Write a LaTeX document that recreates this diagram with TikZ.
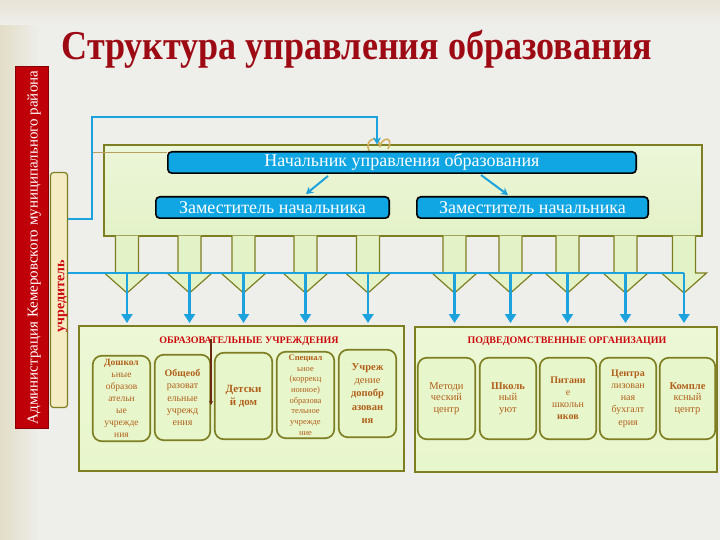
\documentclass[tikz,border=0pt]{standalone}
\usepackage{fontspec}
\setmainfont{Liberation Serif}
\usetikzlibrary{arrows.meta}
\definecolor{bluebox}{HTML}{10A6E4}
\definecolor{lblue}{HTML}{1CA3DD}
\definecolor{olivec}{HTML}{7E7E22}
\definecolor{lgreen}{HTML}{E4F2C8}
\definecolor{boxgreen}{HTML}{E8F6CC}
\definecolor{txtbrown}{HTML}{B0601A}
\definecolor{titlered}{HTML}{9E0A14}
\definecolor{labred}{HTML}{CC0A10}
\definecolor{barred}{HTML}{C00008}
\definecolor{cream}{HTML}{F6ECC4}
\definecolor{bgc}{HTML}{EEEEEB}
\definecolor{beige}{HTML}{E2DDC6}
\definecolor{goldc}{HTML}{D2B060}
\definecolor{tanc}{HTML}{B8A060}
\definecolor{brownarr}{HTML}{6B2A10}
\tikzset{
  bline/.style={draw=lblue, line width=2.2pt},
  oliveline/.style={draw=olivec, line width=1.2pt},
  bluenode/.style={draw=black, line width=1.6pt, fill=bluebox, rounded corners=4pt,
    text=white, inner sep=0pt},
  ibox/.style={draw=olivec, line width=1.7pt, fill=boxgreen, rounded corners=9pt,
    text=txtbrown, align=center, inner sep=0pt, font=\fontsize{9.5}{12}\selectfont},
  outerbox/.style={draw=olivec, line width=1.2pt, inner sep=0pt},
  redlab/.style={text=labred, font=\fontsize{10}{12}\selectfont\bfseries, inner sep=0pt},
}
\begin{document}
\begin{tikzpicture}[x=1pt,y=-1pt]
\useasboundingbox (0,0) rectangle (720,540);
% background
\fill[bgc] (0,0) rectangle (720,540);
\shade[left color=beige, right color=bgc] (0,0) rectangle (40,540);
\shade[top color=beige!60!bgc, bottom color=bgc] (0,0) rectangle (720,25);
% title
\node[anchor=base, text=titlered, font=\fontsize{41}{46}\selectfont\bfseries] (title) at (357,60)
  {\scalebox{0.88}[1]{Структура управления образования}};
% red bar
\node[fill=barred, draw=barred!70!black, line width=0.6pt, minimum width=33pt, minimum height=362pt, inner sep=0pt] (admin) at (31.5,247) {};
\node[rotate=90, text=white, font=\fontsize{15}{17}\selectfont, inner sep=0pt] (admintext) at (34,247.5)
  {Администрация Кемеровского муниципального района};
% cream bar
\node[fill=cream, draw=olivec, line width=1.2pt, rounded corners=3pt, minimum width=17pt, minimum height=235pt, inner sep=0pt] (ucr) at (59,290) {};
\node[rotate=90, text=labred, font=\fontsize{14}{16}\selectfont\bfseries, inner sep=0pt] (ucrtext) at (62.5,296) {учредитель};
% big green box
\node[outerbox, top color=lgreen!70!white, bottom color=lgreen, minimum width=598pt, minimum height=91pt] (bigbox) at (403,190.5) {};
% faint line and ornament
\coordinate (fl1) at (92,152);
\coordinate (fl2) at (167,152);
\draw[tanc, line width=0.6pt] (fl1) -- (fl2);
\draw[goldc, line width=1.6pt] (369,151) .. controls (364,139) and (378,134) .. (380,146)
  .. controls (383,136) and (394,137) .. (388,149);
% blue nodes
\node[bluenode, minimum width=468.4pt, minimum height=21.4pt, font=\fontsize{18}{20}\selectfont] (head) at (402,162.5) {Начальник управления образования};
\node[bluenode, minimum width=233.4pt, minimum height=21.4pt, font=\fontsize{18}{20}\selectfont] (dep1) at (272.5,207.5) {Заместитель начальника};
\node[bluenode, minimum width=231.4pt, minimum height=21.4pt, font=\fontsize{18}{20}\selectfont] (dep2) at (532.5,207.5) {Заместитель начальника};
\draw[bline, line width=2pt, -{Stealth[length=7pt,width=8pt]}] ([xshift=-74pt,yshift=-2pt]head.south) -- ([xshift=33.5pt,yshift=2pt]dep1.north);
\draw[bline, line width=2pt, -{Stealth[length=7pt,width=8pt]}] ([xshift=79pt,yshift=-1pt]head.south) -- ([xshift=-24.5pt,yshift=1pt]dep2.north);
% connector from founder to head box
\coordinate (c1) at (92,219);
\coordinate (c2) at (92,117);
\coordinate (c3) at (377,117);
\coordinate (c4) at (377,0);
\draw[bline, -{Stealth[length=7pt,width=8pt]}] ([yshift=71pt]ucr.east) -- (c1) -- (c2) -- (c3) -- (bigbox.north -| c4);
% funnels
\foreach \i/\c in {1/127,2/189.5,3/243.5,4/305.5,5/368,6/454.5,7/510.5,8/567.5,9/625.5,10/684}{
  \fill[lgreen] (\c-11.5,235.5) -- (\c-11.5,273) -- (\c-22.5,273) -- (\c,293) -- (\c+22.5,273) -- (\c+11.5,273) -- (\c+11.5,235.5) -- cycle;
  \draw[oliveline] (\c-11.5,236) -- (\c-11.5,273) -- (\c-22.5,273) -- (\c,293) -- (\c+22.5,273) -- (\c+11.5,273) -- (\c+11.5,236);
  \coordinate (top\i) at (\c,273);
  \coordinate (tip\i) at (\c,323);
}
\draw[bline] ([yshift=17pt]ucr.east) -- (top10);
\foreach \i in {1,...,10}{
  \draw[bline, -{Triangle[width=11pt,length=9pt]}] (top\i) -- (tip\i);
}
% bottom boxes
\node[outerbox, top color=boxgreen!80!white, bottom color=boxgreen, minimum width=325pt, minimum height=145pt] (edu) at (241.5,398.5) {};
\node[outerbox, top color=boxgreen!80!white, bottom color=boxgreen, minimum width=302pt, minimum height=145pt] (sub) at (566,399.5) {};
\node[redlab] (edulab) at (249,341) {ОБРАЗОВАТЕЛЬНЫЕ УЧРЕЖДЕНИЯ};
\node[redlab] (sublab) at (567,341) {ПОДВЕДОМСТВЕННЫЕ ОРГАНИЗАЦИИ};
% inner boxes
\node[ibox, minimum width=57.5pt, minimum height=85.5pt] (L1) at (121.5,398.5)
  {\textbf{Дошкол}\\ьные\\образов\\ательн\\ые\\учрежде\\ния};
\node[ibox, minimum width=55.5pt, minimum height=85.5pt, font=\fontsize{10}{12.2}\selectfont] (L2) at (182.5,397.5)
  {\textbf{Общеоб}\\разоват\\ельные\\учрежд\\ения};
\node[ibox, minimum width=57.5pt, minimum height=86.5pt, font=\fontsize{11}{13}\selectfont\bfseries] (L3) at (243.5,396)
  {Детски\\й дом};
\node[ibox, minimum width=57.5pt, minimum height=86.5pt, font=\fontsize{8.5}{10.7}\selectfont] (L4) at (305.5,395)
  {\textbf{Специал}\\ьное\\(коррекц\\ионное)\\образова\\тельное\\учрежде\\ние};
\node[ibox, minimum width=57.5pt, minimum height=87.5pt, font=\fontsize{10.5}{13.3}\selectfont] (L5) at (367.5,393.5)
  {\textbf{Учреж}\\дение\\\textbf{допобр}\\\textbf{азован}\\\textbf{ия}};
\node[ibox, minimum width=57.5pt, minimum height=81.5pt, font=\fontsize{10.5}{11.5}\selectfont] (R1) at (446.5,398.5)
  {Методи\\ческий\\центр};
\node[ibox, minimum width=56.5pt, minimum height=81.5pt, font=\fontsize{10.5}{11.5}\selectfont] (R2) at (508,398.5)
  {\textbf{Школь}\\ный\\уют};
\node[ibox, minimum width=56.5pt, minimum height=81.5pt, font=\fontsize{10}{12}\selectfont] (R3) at (568,398.5)
  {\textbf{Питани}\\е\\школьн\\\textbf{иков}};
\node[ibox, minimum width=56.5pt, minimum height=81.5pt, font=\fontsize{10}{12.2}\selectfont] (R4) at (628,398.5)
  {\textbf{Центра}\\лизован\\ная\\бухгалт\\ерия};
\node[ibox, minimum width=55.5pt, minimum height=81.5pt, font=\fontsize{10.5}{11.5}\selectfont] (R5) at (687.5,398.5)
  {\textbf{Компле}\\ксный\\центр};
% brown arrow
\coordinate (ba1) at (211,339);
\coordinate (ba2) at (211,405);
\draw[brownarr, line width=1.6pt, -{Stealth[length=4pt,width=4pt]}] (ba1) -- (ba2);
\end{tikzpicture}
\end{document}
